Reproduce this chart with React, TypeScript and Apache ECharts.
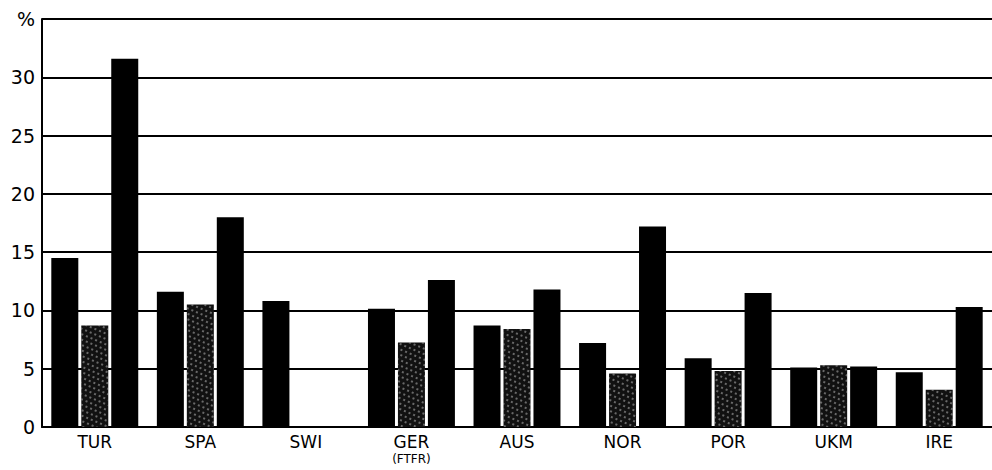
import React, { useEffect, useRef } from "react";
import * as echarts from "echarts";

const categories = ["TUR", "SPA", "SWI", "GER\n(FTFR)", "AUS", "NOR", "POR", "UKM", "IRE"];
const series1 = [14.5, 11.6, 10.8, 10.15, 8.7, 7.2, 5.9, 5.1, 4.7];
const series2 = [8.7, 10.5, null, 7.25, 8.4, 4.6, 4.8, 5.3, 3.2];
const series3 = [31.6, 18.0, null, 12.6, 11.8, 17.2, 11.5, 5.2, 10.3];
const yTicks = [0, 5, 10, 15, 20, 25, 30, 35];

export default function App() {
  const ref = useRef<HTMLDivElement>(null);
  useEffect(() => {
    if (!ref.current) return;
    const chart = echarts.init(ref.current, null, { renderer: "svg" });
    const font = "'DejaVu Sans', 'Liberation Sans', Arial, sans-serif";
    const barBase = { type: "bar" as const, barWidth: 27, barGap: "11%" };
    chart.setOption({
      animation: false,
      backgroundColor: "#fff",
      grid: { left: 42, right: -10, top: 19, bottom: 43, containLabel: false },
      xAxis: {
        type: "category",
        data: categories,
        axisLine: { show: true, lineStyle: { color: "#000", width: 2 } },
        axisTick: { show: false },
        axisLabel: {
          interval: 0,
          color: "#000",
          fontFamily: font,
          fontSize: 17,
          margin: 5,
          formatter: (v: string) => {
            const parts = v.split("\n");
            return parts.length > 1 ? `{a|${parts[0]}}\n{b|${parts[1]}}` : `{a|${v}}`;
          },
          rich: {
            a: { fontSize: 17, fontFamily: font, color: "#000", lineHeight: 19 },
            b: { fontSize: 12, fontFamily: font, color: "#000", lineHeight: 15 },
          },
        },
      },
      yAxis: {
        type: "value",
        min: 0,
        max: 35,
        interval: 5,
        axisLine: { show: true, lineStyle: { color: "#000", width: 2 } },
        axisTick: { show: false },
        splitLine: { show: true, lineStyle: { color: "#000", width: 2 } },
        axisLabel: {
          color: "#000",
          fontFamily: font,
          fontSize: 19,
          margin: 7,
          formatter: (v: number) => (v === yTicks[yTicks.length - 1] ? "%" : String(v)),
        },
      },
      series: [
        { ...barBase, name: "s1", data: series1, itemStyle: { color: "#000" } },
        {
          ...barBase,
          name: "s2",
          data: series2,
          itemStyle: {
            color: "#111",
            decal: {
              symbol: "rect",
              symbolSize: 0.7,
              color: "rgba(255,255,255,0.7)",
              dashArrayX: [[2, 3], [0, 2, 2, 1]],
              dashArrayY: [2, 3],
              rotation: 0.4,
            },
          },
        },
        { ...barBase, name: "s3", data: series3, itemStyle: { color: "#000" } },
      ],
    });
    return () => chart.dispose();
  }, []);
  return (
    <div
      ref={ref}
      style={{ position: "fixed", left: 0, top: 0, width: 992, height: 470, background: "#fff" }}
    />
  );
}
